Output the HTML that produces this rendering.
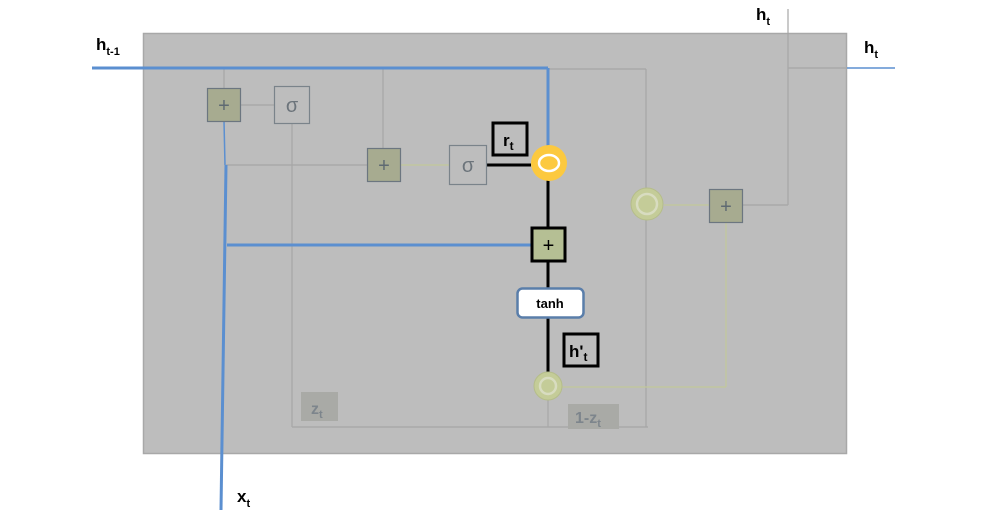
<!DOCTYPE html>
<html><head><meta charset="utf-8"><style>
html,body{margin:0;padding:0;background:#fff;width:990px;height:515px;overflow:hidden}
text{font-family:"Liberation Sans",sans-serif;font-weight:bold}
</style></head><body>
<svg width="990" height="515" viewBox="0 0 990 515">
<rect x="143.5" y="33.5" width="703" height="420" fill="#bdbdbd" stroke="#a8a8a8" stroke-width="1.5"/>
<g stroke="#a6a6a6" stroke-width="1.2" fill="none">
<line x1="224" y1="68" x2="224" y2="88"/>
<line x1="240" y1="105" x2="274" y2="105"/>
<line x1="383" y1="68" x2="383" y2="148"/>
<line x1="226" y1="165" x2="367" y2="165"/>
<line x1="292" y1="123" x2="292" y2="427"/>
<line x1="292" y1="427" x2="648" y2="427"/>
<line x1="548" y1="398" x2="548" y2="427"/>
<line x1="548" y1="69" x2="646" y2="69"/>
<line x1="646" y1="69" x2="646" y2="427"/>
<line x1="788" y1="9" x2="788" y2="205"/>
<line x1="742" y1="205" x2="788" y2="205"/>
<line x1="788" y1="68" x2="847" y2="68"/>
</g>
<g stroke="#c2c89a" stroke-width="1.2" fill="none">
<line x1="400" y1="165" x2="449" y2="165"/>
<line x1="562" y1="387" x2="726" y2="387"/>
<line x1="726" y1="222" x2="726" y2="387"/>
<line x1="664" y1="205" x2="709" y2="205"/>
</g>
<g stroke="#5b8fd0" fill="none">
<line x1="92" y1="68" x2="548" y2="68" stroke-width="3"/>
<line x1="548" y1="68" x2="548" y2="146" stroke-width="3"/>
<line x1="224" y1="121" x2="225" y2="165" stroke-width="1.5"/>
<line x1="226" y1="165" x2="221" y2="510" stroke-width="3"/>
<line x1="227" y1="245" x2="531" y2="245" stroke-width="3"/>
<line x1="847" y1="68" x2="895" y2="68" stroke-width="1.5"/>
</g>
<g stroke="#000" stroke-width="3">
<line x1="486" y1="165" x2="531" y2="165"/>
<line x1="548" y1="180" x2="548" y2="227"/>
<line x1="548" y1="262" x2="548" y2="288"/>
<line x1="548" y1="318" x2="548" y2="372"/>
</g>
<g><rect x="207.5" y="88.5" width="33" height="33" fill="#a7ab90" stroke="#6c7680" stroke-width="1.2"/><text x="224" y="112" text-anchor="middle" font-size="20" fill="#5f6a72" style="font-weight:normal">+</text></g>
<g><rect x="274.5" y="86.5" width="35" height="37" fill="#bdbdbd" stroke="#7a838a" stroke-width="1.2"/><text x="292" y="112" text-anchor="middle" font-size="20" fill="#6c747b" style="font-weight:normal">σ</text></g>
<g><rect x="367.5" y="148.5" width="33" height="33" fill="#a7ab90" stroke="#6c7680" stroke-width="1.2"/><text x="384" y="172" text-anchor="middle" font-size="20" fill="#5f6a72" style="font-weight:normal">+</text></g>
<g><rect x="449.5" y="145.5" width="37" height="39" fill="#bdbdbd" stroke="#7a838a" stroke-width="1.2"/><text x="468" y="172" text-anchor="middle" font-size="20" fill="#6c747b" style="font-weight:normal">σ</text></g>
<g><rect x="709.5" y="189.5" width="33" height="33" fill="#a7ab90" stroke="#6c7680" stroke-width="1.2"/><text x="726" y="213" text-anchor="middle" font-size="20" fill="#5f6a72" style="font-weight:normal">+</text></g>
<g><circle cx="549" cy="163" r="18" fill="#fcc93f"/><ellipse cx="549" cy="163" rx="10" ry="8" fill="none" stroke="#fff" stroke-width="2.5"/></g>
<g><circle cx="647" cy="204" r="16" fill="#c4cc98" stroke="#b5bd8a"/><circle cx="647" cy="204" r="10" fill="none" stroke="#d8dcc0" stroke-width="2.5"/></g>
<g><circle cx="548" cy="386" r="14" fill="#c4cc98" stroke="#b5bd8a"/><circle cx="548" cy="386" r="8" fill="none" stroke="#d8dcc0" stroke-width="2.5"/></g>
<g><rect x="532" y="228" width="33" height="33" fill="#b5bf94" stroke="#000" stroke-width="3"/><text x="548.5" y="252" text-anchor="middle" font-size="20" fill="#000" style="font-weight:normal">+</text></g>
<g><rect x="517.5" y="288.5" width="66" height="29" rx="5" fill="#fff" stroke="#5a7eaa" stroke-width="2.5"/><text x="550" y="308" text-anchor="middle" font-size="13" fill="#000">tanh</text></g>
<g><rect x="493" y="123" width="34" height="32" fill="#bdbdbd" stroke="#000" stroke-width="3"/><text x="503" y="146" font-size="17">r<tspan font-size="12" dy="4">t</tspan></text></g>
<g><rect x="564" y="334" width="34" height="32" fill="#bdbdbd" stroke="#000" stroke-width="3"/><text x="569" y="357" font-size="17">h'<tspan font-size="12" dy="4">t</tspan></text></g>
<g><rect x="301" y="392" width="37" height="29" fill="#a9aaa6"/><text x="311" y="414" font-size="16" fill="#7d858c">z<tspan font-size="11" dy="4">t</tspan></text></g>
<g><rect x="568" y="404" width="51" height="25" fill="#a9aaa6"/><text x="575" y="423" font-size="16" fill="#7d858c">1-z<tspan font-size="11" dy="4">t</tspan></text></g>
<text x="96" y="50" font-size="17">h<tspan font-size="11" dy="5">t-1</tspan></text>
<text x="756" y="20" font-size="17">h<tspan font-size="11" dy="5">t</tspan></text>
<text x="864" y="53" font-size="17">h<tspan font-size="11" dy="5">t</tspan></text>
<text x="237" y="502" font-size="17">x<tspan font-size="11" dy="5">t</tspan></text>
</svg>
</body></html>
